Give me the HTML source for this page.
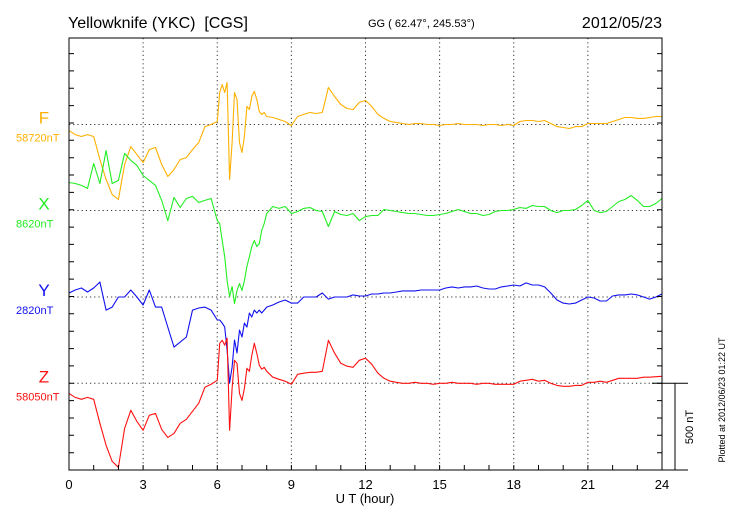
<!DOCTYPE html>
<html><head><meta charset="utf-8"><style>
body{margin:0;background:#fff;}
svg{display:block;font-family:"Liberation Sans",sans-serif;}
</style></head><body>
<svg id="c" width="730" height="520" xmlns="http://www.w3.org/2000/svg">
<rect width="730" height="520" fill="#fff"/>
<text x="68" y="28" font-size="16">Yellowknife (YKC)&#160; [CGS]</text>
<text x="368" y="27" font-size="11">GG ( 62.47°, 245.53°)</text>
<text x="662" y="28" font-size="16" text-anchor="end">2012/05/23</text>
<text x="365" y="503" font-size="13" text-anchor="middle">U T (hour)</text>
<text transform="translate(693,427) rotate(-90)" font-size="11" text-anchor="middle">500 nT</text>
<text transform="translate(725,400) rotate(-90)" font-size="9" text-anchor="middle">Plotted at 2012/06/23 01:22 UT</text>
<g id="grid"></g><g id="series"></g><g id="axes"></g>
</svg>
<script>
const times = [0,0.25,0.5,0.75,1,1.25,1.5,1.75,2,2.25,2.5,2.75,3,3.25,3.5,3.75,4,4.25,4.5,4.75,5,5.25,5.5,5.75,6,
6.1,6.2,6.3,6.4,6.5,6.6,6.7,6.8,6.9,7,7.1,7.2,7.3,7.4,7.5,7.6,7.7,7.8,7.9,8,
8.25,8.5,8.75,9,9.25,9.5,9.75,10,10.25,10.5,10.75,11,11.25,11.5,11.75,12,12.25,12.5,12.75,13,13.25,
13.5,13.75,14,14.25,14.5,14.75,15,15.25,15.5,15.75,16,16.25,16.5,16.75,17,17.25,17.5,17.75,18,
18.25,18.5,18.75,19,19.25,19.5,19.75,20,20.25,20.5,20.75,21,21.25,21.5,21.75,22,22.25,22.5,22.75,23,23.25,23.5,23.75,24];
const fValues = [-35,-58,-69,-58,-69,-201,-316,-403,-431,-230,-127,-173,-219,-144,-132,-230,-299,-259,-201,-190,-144,-104,-12,0,17,
184,230,184,242,-316,-104,184,144,-104,-161,-69,104,86,161,190,144,75,58,69,46,
40,29,17,-6,46,58,69,63,69,213,161,115,92,86,127,138,104,58,35,17,12,
6,0,6,6,0,0,-6,0,0,6,0,0,0,-6,0,0,-6,0,-6,
17,23,23,17,23,6,-12,-17,-23,-12,-12,6,6,6,6,17,29,40,40,35,35,40,46,46];
const xValues = [161,155,144,127,270,155,345,155,173,328,288,259,201,173,144,58,-58,75,17,69,81,46,58,69,-58,
-75,-173,-265,-403,-495,-437,-535,-460,-420,-460,-403,-322,-265,-207,-173,-207,-190,-115,-75,-17,
23,12,23,-17,-6,12,17,0,-6,-92,-6,-23,-29,-17,-58,-35,-29,-29,6,0,-6,
-12,-17,-17,-23,-29,-29,-23,-17,-6,6,-6,-17,-17,-29,-23,-6,0,0,6,
17,12,29,23,23,0,-12,0,0,6,29,58,0,-12,-6,23,52,63,86,58,23,23,40,69];
const yValues = [23,40,52,29,52,86,-75,-58,0,0,40,0,-46,40,-58,-58,-173,-288,-259,-230,-75,-63,-58,-75,-132,
-132,-150,-173,-305,-495,-403,-247,-322,-190,-230,-150,-173,-92,-115,-75,-92,-75,-92,-75,-58,
-46,-29,-17,-35,-35,0,0,0,23,-12,0,0,0,12,6,6,17,17,23,23,29,
35,35,35,40,40,40,40,52,58,52,58,58,63,52,46,46,58,63,69,
63,81,69,69,58,23,-17,-35,-40,-35,-17,0,-6,-23,-23,6,12,12,17,12,0,-12,0,17];
const zValues = [-58,-81,-92,-81,-92,-230,-357,-449,-483,-259,-155,-219,-270,-184,-173,-265,-311,-288,-230,-207,-161,-115,-23,-6,17,
230,247,219,259,-270,-29,132,115,-58,-98,-29,86,69,161,230,173,104,81,92,69,
35,23,12,-6,52,58,63,63,69,247,173,115,98,92,132,144,110,58,29,12,6,
0,0,6,0,0,-6,0,0,6,0,0,0,-6,0,0,-6,-6,-6,-6,
12,17,23,12,17,0,-12,-17,-17,-12,-12,6,6,12,6,17,29,29,29,29,35,35,38,40];
const seriesNames = ["F","X","Y","Z"];
const baseLabels = ["58720nT","8620nT","2820nT","58050nT"];
const xTickLabels = ["0","3","6","9","12","15","18","21","24"];

const NS="http://www.w3.org/2000/svg";
const L=69,R=662,T=38,B=470,PXNT=87/500;
const bases=[124.5,210.5,297,383.3];
const colors=["#ffb000","#22ee22","#1010f0","#ff1010"];
const xs=h=>L+(R-L)*h/24;
const ys=(v,i)=>bases[i]-v*PXNT;
function mk(tag,attrs,parent){const e=document.createElementNS(NS,tag);for(const k in attrs)e.setAttribute(k,attrs[k]);parent.appendChild(e);return e;}
const grid=document.getElementById('grid'),ser=document.getElementById('series'),ax=document.getElementById('axes');
for(let h=3;h<24;h+=3){const l=mk('line',{x1:xs(h),x2:xs(h),y1:T,y2:B,stroke:'#333','stroke-width':1,'stroke-dasharray':'1.2,3'},grid);

}
bases.forEach((b,i)=>{const l=mk('line',{x1:L,x2:R,y1:b,y2:b,stroke:'#333','stroke-width':1,'stroke-dasharray':'1.2,3'},grid);

});
[fValues,xValues,yValues,zValues].forEach((vals,i)=>{
 const d=vals.map((v,j)=>(j?'L':'M')+xs(times[j]).toFixed(1)+','+ys(v,i).toFixed(1)).join('');
 const p=mk('path',{d:d,fill:'none',stroke:colors[i],'stroke-width':1.1,'stroke-linejoin':'round'},ser);
 
 
 const t=mk('text',{x:44,y:bases[i]-1,'font-size':17,fill:colors[i],'text-anchor':'middle'},ax);t.textContent=seriesNames[i];
 
 
 const t2=mk('text',{x:16,y:bases[i]+17,'font-size':11,fill:colors[i]},ax);t2.textContent=baseLabels[i];
 
 
});
const fr=mk('rect',{x:L,y:T,width:R-L,height:B-T,fill:'none',stroke:'#000','stroke-width':1},ax);


let td='';
for(let y=T+ (B-T)%17.35;y<B;y+=17.35){td+=`M${L},${y.toFixed(1)}h5M${R},${y.toFixed(1)}h-5`;}
for(let h=1;h<24;h++){td+=`M${xs(h).toFixed(1)},${B}v-5`;}
const tk=mk('path',{d:td,stroke:'#000','stroke-width':1,fill:'none'},ax);


xTickLabels.forEach((s,k)=>{const t=mk('text',{x:xs(k*3),y:489,'font-size':13,'text-anchor':'middle'},ax);t.textContent=s;
 
 });
const sb=mk('path',{d:`M${R-10},383.3H688M675,383.3V${B}M${R},${B}H688`,stroke:'#000','stroke-width':1,fill:'none'},ax);


</script>
</body></html>
